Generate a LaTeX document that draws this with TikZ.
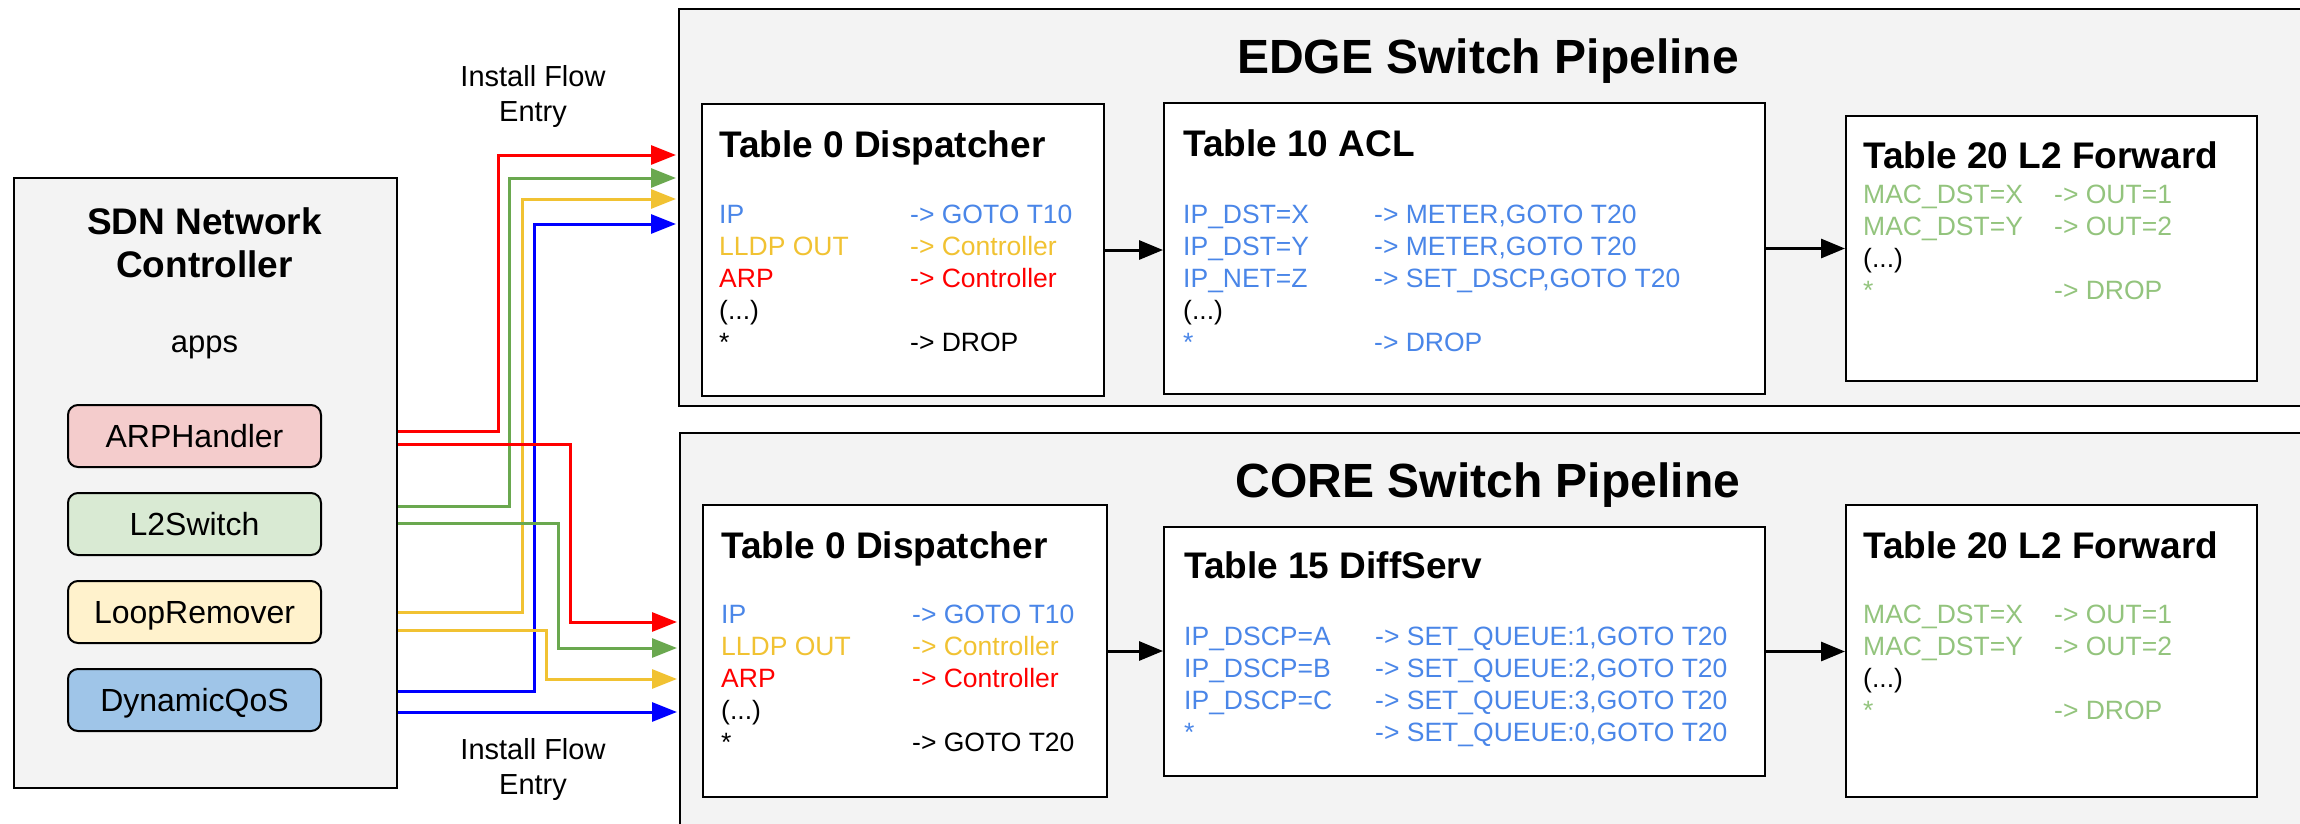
\documentclass[tikz,border=0pt]{standalone}
\usepackage{fontspec}
\setmainfont{Liberation Sans}
\usetikzlibrary{arrows.meta}

\definecolor{panelgray}{RGB}{243,243,243}
\definecolor{ipblue}{RGB}{74,134,232}
\definecolor{lldpyellow}{RGB}{241,194,50}
\definecolor{arpred}{RGB}{255,0,0}
\definecolor{macgreen}{RGB}{147,196,125}
\definecolor{flowgreen}{RGB}{106,168,79}
\definecolor{flowblue}{RGB}{0,0,255}
\definecolor{arpfill}{RGB}{244,204,204}
\definecolor{l2fill}{RGB}{217,234,211}
\definecolor{loopfill}{RGB}{255,242,204}
\definecolor{qosfill}{RGB}{159,197,232}

\begin{document}
\begin{tikzpicture}[x=1pt,y=1pt,yscale=-1,
  panel/.style={draw=black, line width=2pt, fill=panelgray, anchor=north west, inner sep=0pt},
  tablebox/.style={draw=black, line width=2pt, fill=white, anchor=north west, inner sep=0pt},
  appbox/.style={draw=black, line width=2pt, rounded corners=10pt, anchor=north west, inner sep=0pt,
    minimum width=253pt, minimum height=62pt, text height=23pt, text depth=0pt, font=\fontsize{32}{38}\selectfont},
  tabletitle/.style={anchor=base west, inner sep=0pt, font=\bfseries\fontsize{37}{44}\selectfont},
  pipetitle/.style={anchor=base, inner sep=0pt, font=\bfseries\fontsize{48}{58}\selectfont},
  rowtext/.style={anchor=base west, inner sep=0pt, font=\fontsize{26.5}{32}\selectfont},
  flowlabel/.style={anchor=north, inner sep=0pt, align=center, font=\fontsize{29}{35}\selectfont},
  flowline/.style={line width=3pt, shorten >=2pt, -{Triangle[length=25pt,width=19pt]}},
  nextarrow/.style={line width=3pt, -{Triangle[length=24pt,width=19pt]}}]
\useasboundingbox (0,0) rectangle (2300,823);
\clip (0,0) rectangle (2300,823);

%Shape: Pipeline panels
\node[panel, minimum width=1650pt, minimum height=397pt] (edge) at (678,8) {};
\node[panel, minimum width=1650pt, minimum height=420pt] (core) at (679,432) {};
% Text Node
\node[pipetitle] (edgetitle) at (1488,73) {EDGE Switch Pipeline};
% Text Node
\node[pipetitle] (coretitle) at (1488,497) {CORE Switch Pipeline};

%Shape: Controller
\node[panel, minimum width=383pt, minimum height=610pt] (ctrl) at (13,177) {};
% Text Node
\node[anchor=north, inner sep=0pt, align=center, font=\bfseries\fontsize{37}{43}\selectfont] (ctrlname) at (204.5,207) {SDN Network\\Controller};
% Text Node
\node[anchor=base, inner sep=0pt, font=\fontsize{31}{37}\selectfont] (appslabel) at (204.5,352) {apps};

%Shape: Apps
\node[appbox, fill=arpfill] (arp) at (67,404) {ARPHandler};
\node[appbox, fill=l2fill] (l2) at (67,492) {L2Switch};
\node[appbox, fill=loopfill] (loop) at (67,580) {LoopRemover};
\node[appbox, fill=qosfill] (qos) at (67,668) {DynamicQoS};

% Text Node
\node[flowlabel] (flowtop) at (533,65) {Install Flow\\Entry};
% Text Node
\node[flowlabel] (flowbottom) at (533,738) {Install Flow\\Entry};

%Straight Lines: flow entries
\coordinate (arpE) at (ctrl.east |- 0,431);
\coordinate (arpC) at (ctrl.east |- 0,444);
\coordinate (l2E) at (ctrl.east |- 0,506);
\coordinate (l2C) at (ctrl.east |- 0,523);
\coordinate (loopE) at (ctrl.east |- 0,612);
\coordinate (loopC) at (ctrl.east |- 0,630);
\coordinate (qosE) at (ctrl.east |- 0,691);
\coordinate (qosC) at (ctrl.east |- 0,712);
\draw[flowline, arpred] (arpE) -- (498,431) |- (edge.west |- 0,155);
\draw[flowline, flowgreen] (l2E) -- (509,506) |- (edge.west |- 0,178);
\draw[flowline, lldpyellow] (loopE) -- (522,612) |- (edge.west |- 0,199);
\draw[flowline, flowblue] (qosE) -- (534,691) |- (edge.west |- 0,224);
\draw[flowline, arpred] (arpC) -- (570,444) |- (core.west |- 0,622);
\draw[flowline, flowgreen] (l2C) -- (558,523) |- (core.west |- 0,648);
\draw[flowline, lldpyellow] (loopC) -- (546,630) |- (core.west |- 0,679);
\draw[flowline, flowblue] (qosC) -- (core.west |- 0,712);

%Shape: EDGE tables
\node[tablebox, minimum width=402pt, minimum height=292pt] (e0) at (701,103) {};
\node[tablebox, minimum width=601pt, minimum height=291pt] (e10) at (1163,102) {};
\node[tablebox, minimum width=411pt, minimum height=265pt] (e20) at (1845,115) {};
\draw[nextarrow] (e0.east) -- (e0.east -| e10.west);
\draw[nextarrow] (e10.east) -- (e10.east -| e20.west);

% Text Node
\node[tabletitle] (e0title) at (719,157) {Table 0 Dispatcher};
\node[rowtext, ipblue] (e0k1) at (719,223) {IP};
\node[rowtext, ipblue] (e0a1) at (910,223) {-> GOTO T10};
\node[rowtext, lldpyellow] (e0k2) at (719,255) {LLDP OUT};
\node[rowtext, lldpyellow] (e0a2) at (910,255) {-> Controller};
\node[rowtext, arpred] (e0k3) at (719,287) {ARP};
\node[rowtext, arpred] (e0a3) at (910,287) {-> Controller};
\node[rowtext] (e0k4) at (719,319) {(...)};
\node[rowtext] (e0k5) at (719,351) {*};
\node[rowtext] (e0a5) at (910,351) {-> DROP};

% Text Node
\node[tabletitle] (e10title) at (1183,156) {Table 10 ACL};
\node[rowtext, ipblue] (e10k1) at (1183,223) {IP\_DST=X};
\node[rowtext, ipblue] (e10a1) at (1374,223) {-> METER,GOTO T20};
\node[rowtext, ipblue] (e10k2) at (1183,255) {IP\_DST=Y};
\node[rowtext, ipblue] (e10a2) at (1374,255) {-> METER,GOTO T20};
\node[rowtext, ipblue] (e10k3) at (1183,287) {IP\_NET=Z};
\node[rowtext, ipblue] (e10a3) at (1374,287) {-> SET\_DSCP,GOTO T20};
\node[rowtext] (e10k4) at (1183,319) {(...)};
\node[rowtext, ipblue] (e10k5) at (1183,351) {*};
\node[rowtext, ipblue] (e10a5) at (1374,351) {-> DROP};

% Text Node
\node[tabletitle] (e20title) at (1863,168) {Table 20 L2 Forward};
\node[rowtext, macgreen] (e20k1) at (1863,203) {MAC\_DST=X};
\node[rowtext, macgreen] (e20a1) at (2054,203) {-> OUT=1};
\node[rowtext, macgreen] (e20k2) at (1863,235) {MAC\_DST=Y};
\node[rowtext, macgreen] (e20a2) at (2054,235) {-> OUT=2};
\node[rowtext] (e20k3) at (1863,267) {(...)};
\node[rowtext, macgreen] (e20k4) at (1863,299) {*};
\node[rowtext, macgreen] (e20a4) at (2054,299) {-> DROP};

%Shape: CORE tables
\node[tablebox, minimum width=404pt, minimum height=292pt] (c0) at (702,504) {};
\node[tablebox, minimum width=601pt, minimum height=249pt] (c15) at (1163,526) {};
\node[tablebox, minimum width=411pt, minimum height=292pt] (c20) at (1845,504) {};
\draw[nextarrow] (c0.east) -- (c0.east -| c15.west);
\draw[nextarrow] (c15.east) -- (c15.east -| c20.west);

% Text Node
\node[tabletitle] (c0title) at (721,558) {Table 0 Dispatcher};
\node[rowtext, ipblue] (c0k1) at (721,623) {IP};
\node[rowtext, ipblue] (c0a1) at (912,623) {-> GOTO T10};
\node[rowtext, lldpyellow] (c0k2) at (721,655) {LLDP OUT};
\node[rowtext, lldpyellow] (c0a2) at (912,655) {-> Controller};
\node[rowtext, arpred] (c0k3) at (721,687) {ARP};
\node[rowtext, arpred] (c0a3) at (912,687) {-> Controller};
\node[rowtext] (c0k4) at (721,719) {(...)};
\node[rowtext] (c0k5) at (721,751) {*};
\node[rowtext] (c0a5) at (912,751) {-> GOTO T20};

% Text Node
\node[tabletitle] (c15title) at (1184,578) {Table 15 DiffServ};
\node[rowtext, ipblue] (c15k1) at (1184,645) {IP\_DSCP=A};
\node[rowtext, ipblue] (c15a1) at (1375,645) {-> SET\_QUEUE:1,GOTO T20};
\node[rowtext, ipblue] (c15k2) at (1184,677) {IP\_DSCP=B};
\node[rowtext, ipblue] (c15a2) at (1375,677) {-> SET\_QUEUE:2,GOTO T20};
\node[rowtext, ipblue] (c15k3) at (1184,709) {IP\_DSCP=C};
\node[rowtext, ipblue] (c15a3) at (1375,709) {-> SET\_QUEUE:3,GOTO T20};
\node[rowtext, ipblue] (c15k4) at (1184,741) {*};
\node[rowtext, ipblue] (c15a4) at (1375,741) {-> SET\_QUEUE:0,GOTO T20};

% Text Node
\node[tabletitle] (c20title) at (1863,558) {Table 20 L2 Forward};
\node[rowtext, macgreen] (c20k1) at (1863,623) {MAC\_DST=X};
\node[rowtext, macgreen] (c20a1) at (2054,623) {-> OUT=1};
\node[rowtext, macgreen] (c20k2) at (1863,655) {MAC\_DST=Y};
\node[rowtext, macgreen] (c20a2) at (2054,655) {-> OUT=2};
\node[rowtext] (c20k3) at (1863,687) {(...)};
\node[rowtext, macgreen] (c20k4) at (1863,719) {*};
\node[rowtext, macgreen] (c20a4) at (2054,719) {-> DROP};

\end{tikzpicture}
\end{document}
